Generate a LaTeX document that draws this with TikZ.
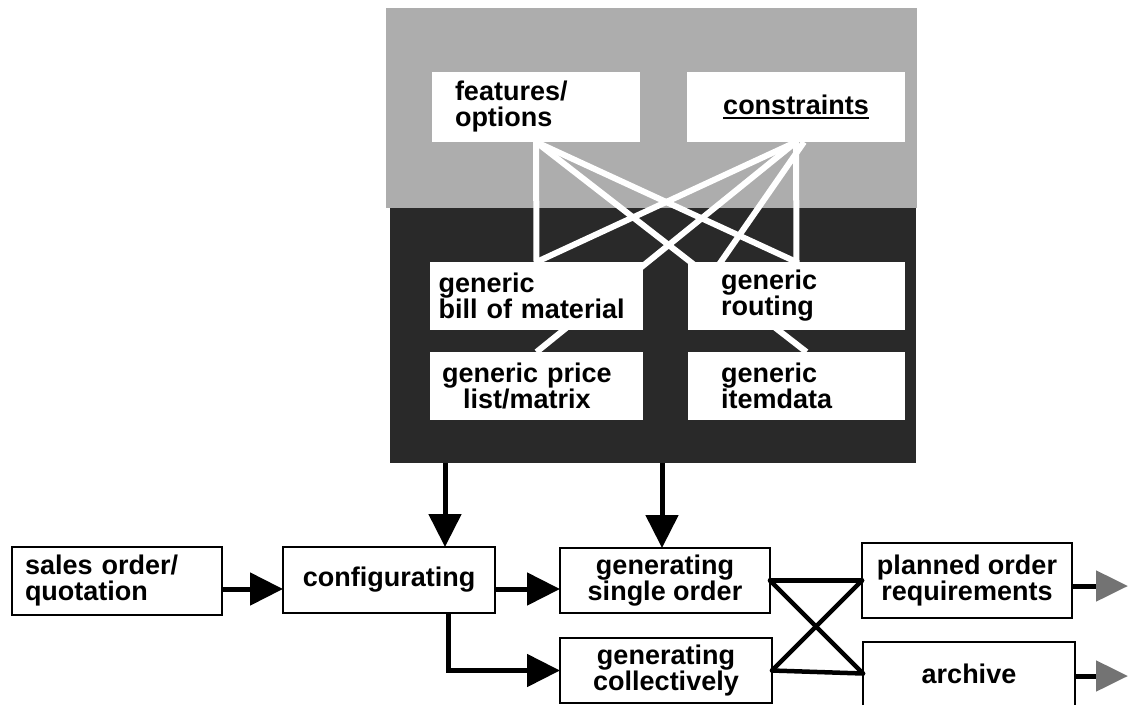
\documentclass[tikz,border=0pt]{standalone}
\usepackage{fontspec}
\setmainfont{Liberation Sans}
\usetikzlibrary{arrows.meta}
\definecolor{lgray}{gray}{0.68}
\definecolor{dgray}{gray}{0.16}
\definecolor{tipgray}{gray}{0.45}
\newcommand{\ulthick}[1]{\setbox0\hbox{#1}\rlap{\rule[-5pt]{\wd0}{2.5pt}}#1}
\begin{document}
\lineskiplimit=-100pt
\lineskip=0pt
\begin{tikzpicture}[x=1pt,y=-1pt,
  txt/.style={font=\fontsize{27}{26}\selectfont\bfseries},
  upbox/.style={txt, fill=white, inner ysep=0pt, outer sep=0pt},
  lowbox/.style={txt, draw=black, line width=1.5pt, fill=white, inner ysep=0pt, outer sep=0pt},
  wl/.style={white, line width=6pt},
  arr/.style={line width=5pt, -{Triangle[width=32pt,length=33pt]}},
  outarr/.style={line width=5pt, -{Triangle[width=30pt,length=32pt,color=tipgray]}},
  xl/.style={line width=4.5pt, line cap=round}
]
\useasboundingbox (0,0) rectangle (1128,705);

% background areas
\fill[lgray] (386,8) rectangle (917,208);
\fill[dgray] (390,208) rectangle (916,463);

% upper box frames (anchors for the white links)
\path
  node[upbox, minimum width=208pt, minimum height=70pt, fill=none] (feat) at (536,107) {}
  node[upbox, minimum width=218pt, minimum height=70pt, fill=none] (cons) at (796,107) {}
  node[upbox, minimum width=213pt, minimum height=68pt, fill=none] (bom) at (536.5,296) {}
  node[upbox, minimum width=217pt, minimum height=68pt, fill=none] (rout) at (796.5,296) {}
  node[upbox, minimum width=213pt, minimum height=68pt, fill=none] (price) at (536.5,386) {}
  node[upbox, minimum width=217pt, minimum height=68pt, fill=none] (item) at (796.5,386) {};

% white links
\coordinate (band) at (718,262);
\draw[wl] (feat.south) -- (bom.north);
\draw[wl] (feat.south) -- (rout.north);
\draw[wl] (feat.south) -- ([xshift=10pt]item.north);
\draw[wl] (cons.south) -- (rout.north);
\draw[wl] (cons.south) -- (bom.north);
\draw[wl] (cons.south) -- (price.north);
\draw[wl] ([xshift=8pt]cons.south) -- ([yshift=-4pt]band);

% upper boxes with text
\node[upbox, inner xsep=23pt, text width=162pt, minimum height=70pt, align=left] (featT) at (feat) {features/\\options};
\node[upbox, minimum width=218pt, minimum height=70pt] (consT) at (cons) {\ulthick{constraints}};
\node[upbox, inner xsep=8.5pt, text width=196pt, minimum height=68pt, align=left] (bomT) at (bom) {generic\\bill~of~material};
\node[upbox, inner xsep=33pt, text width=151pt, minimum height=68pt, align=left] (routT) at (rout) {generic\\routing};
\node[upbox, inner xsep=12pt, text width=189pt, minimum height=68pt, align=left] (priceT) at (price) {generic~price\\\hspace*{21pt}list/matrix};
\node[upbox, inner xsep=33pt, text width=151pt, minimum height=68pt, align=left] (itemT) at (item) {generic\\itemdata};

% lower boxes
\node[lowbox, inner xsep=13pt, text width=184pt, minimum height=68pt, align=left] (sales) at (117,581) {sales~order/\\quotation};
\node[lowbox, minimum width=212pt, minimum height=66pt] (config) at (389,580) {configurating};
\node[lowbox, minimum width=210pt, minimum height=65pt, align=center] (gs) at (665,580.5) {generating\\single order};
\node[lowbox, minimum width=212pt, minimum height=65pt, align=center] (gc) at (666,670.5) {generating\\collectively};
\node[lowbox, minimum width=210pt, minimum height=75pt, align=center] (pl) at (967,580.5) {planned order\\requirements};
\node[lowbox, draw=none, minimum width=212pt, minimum height=63pt] (arch) at (969,673.5) {archive};
\draw[line width=1.5pt] (arch.south west) -- (arch.north west) -- (arch.north east) -- (arch.south east);

% arrows from the generic data block
\coordinate (d1) at (445,463);
\coordinate (d2) at (662,463);
\draw[arr] (d1) -- (d1 |- config.north);
\draw[arr] (d2) -- (d2 |- gs.north);

% main flow
\coordinate (s1) at ([yshift=-8pt]sales.east);
\coordinate (c1) at ([yshift=-9pt]config.east);
\coordinate (c2) at ([xshift=59pt]config.south);
\draw[arr] (s1) -- (s1 -| config.west);
\draw[arr] (c1) -- (c1 -| gs.west);
\draw[arr] (c2) |- (gc.west);

% crossing links
\draw[xl] (gs.east) -- (pl.west);
\draw[xl] (gs.east) -- (arch.west);
\draw[xl] (gc.east) -- (arch.west);
\draw[xl] (gc.east) -- (pl.west);

% outgoing arrows
\coordinate (o1) at (1128,586);
\coordinate (o2) at (1128,676);
\draw[outarr] (pl.east |- o1) -- (o1);
\draw[outarr] (arch.east |- o2) -- (o2);
\end{tikzpicture}
\end{document}
